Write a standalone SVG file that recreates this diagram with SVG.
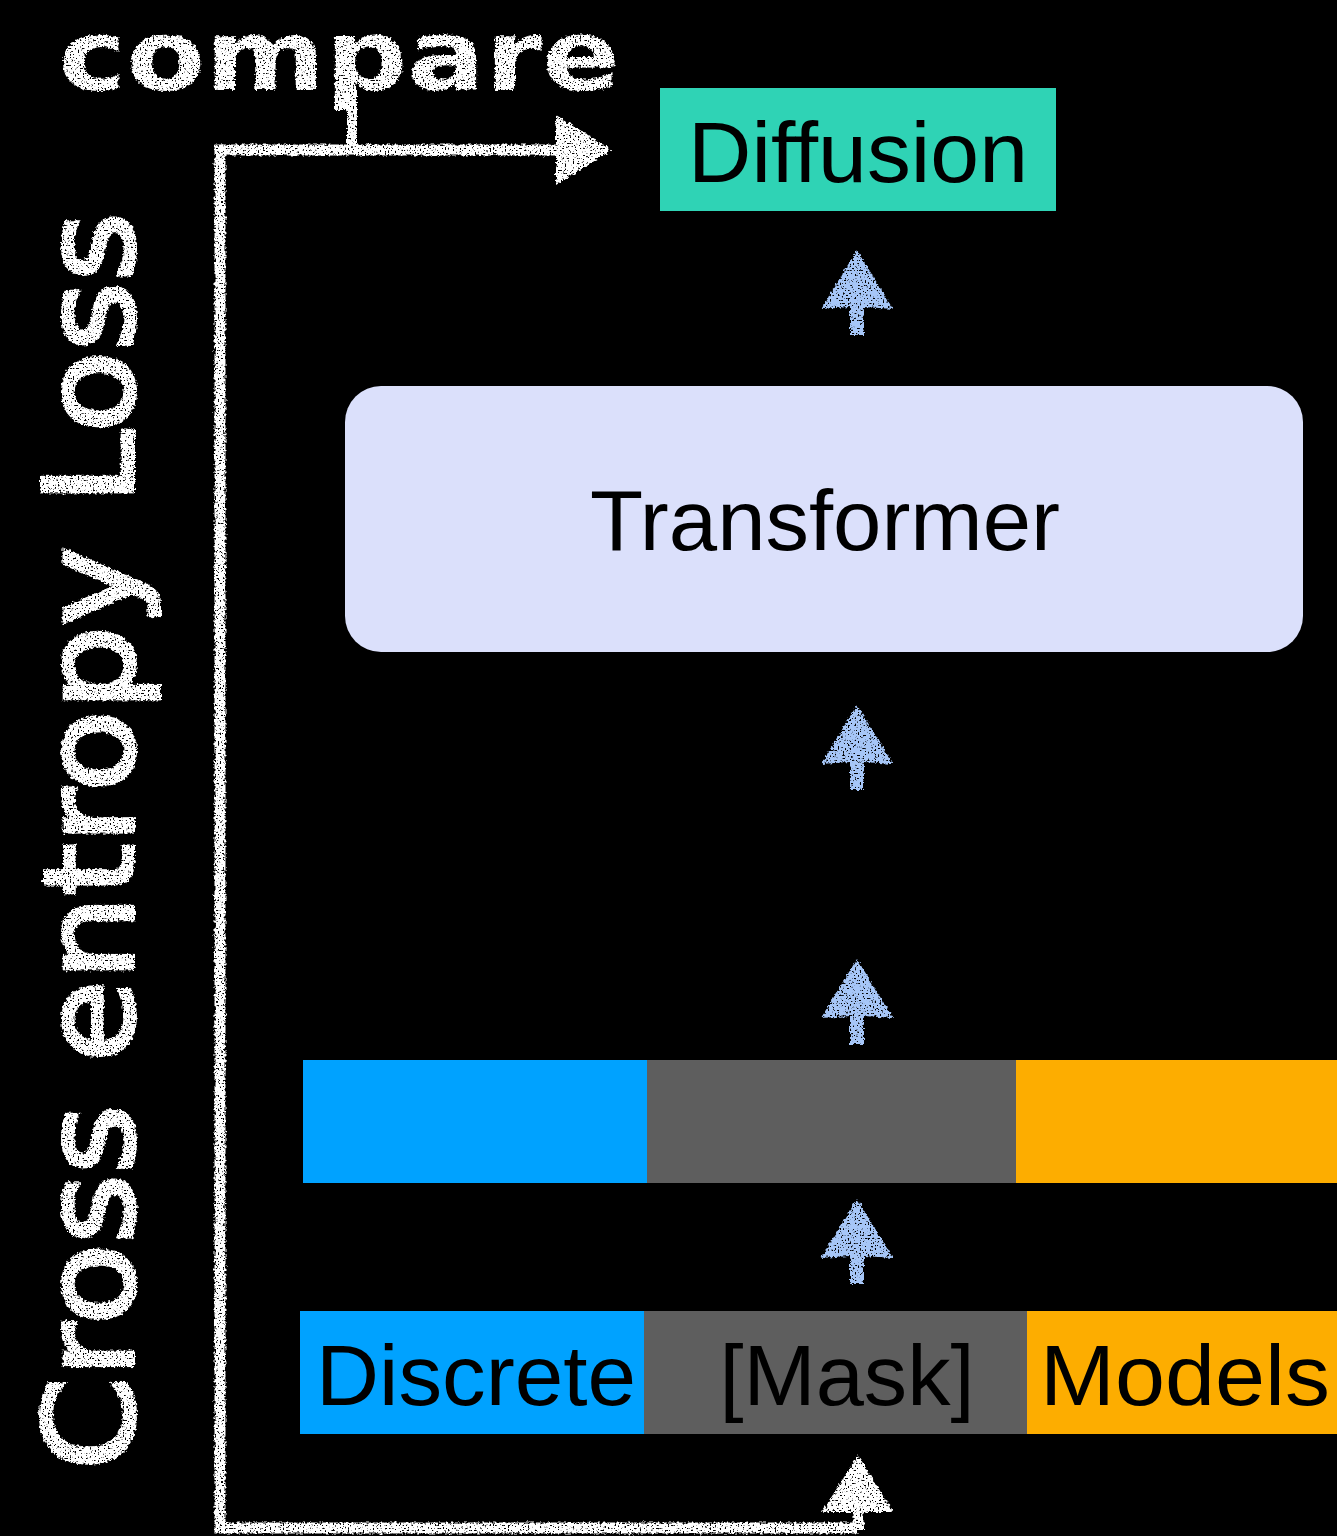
<svg xmlns="http://www.w3.org/2000/svg" width="1337" height="1536" viewBox="0 0 1337 1536">
<defs>
<filter id="chalk" x="-10%" y="-10%" width="120%" height="120%">
<feTurbulence type="fractalNoise" baseFrequency="0.35" numOctaves="2" seed="3" result="n"/>
<feDisplacementMap in="SourceGraphic" in2="n" scale="5" xChannelSelector="R" yChannelSelector="G" result="d"/>
<feTurbulence type="fractalNoise" baseFrequency="0.6" numOctaves="1" seed="7" result="n2"/>
<feColorMatrix in="n2" type="matrix" values="0 0 0 0 0  0 0 0 0 0  0 0 0 0 0  0 0 0 -12 8.2" result="holes"/>
<feComposite in="d" in2="holes" operator="in"/>
</filter>
<style>
.lbl{font-family:"Liberation Sans",Arial,sans-serif;fill:#000;font-size:86px}
.hand{font-family:"DejaVu Sans",sans-serif;font-weight:bold;fill:#fff}
.hand2{font-family:"DejaVu Sans",sans-serif;font-weight:normal;fill:#fff;stroke:#fff;stroke-width:4px}
.blue{fill:#a6c6f7}
</style>
<g id="arrow-blue">
<path d="M0,-43 L36,16 L7,14 L7,42 L-7,42 L-7,14 L-36,16 Z"/>
</g>
</defs>
<rect width="1337" height="1536" fill="#000"/>

<g id="diffusion">
<rect x="660" y="88" width="396" height="123" fill="#2fd3b5"/>
<text class="lbl" x="858" y="182" text-anchor="middle" textLength="340" lengthAdjust="spacingAndGlyphs">Diffusion</text>
</g>

<g id="transformer">
<rect x="345" y="386" width="958" height="266" rx="36" fill="#dbe0fb"/>
<text class="lbl" x="825" y="550" text-anchor="middle" font-size="84" textLength="470" lengthAdjust="spacingAndGlyphs">Transformer</text>
</g>

<g id="embeddings">
<rect x="303" y="1060" width="345" height="123" fill="#00a2ff"/>
<rect x="647" y="1060" width="370" height="123" fill="#5e5e5e"/>
<rect x="1016" y="1060" width="321" height="123" fill="#fdad00"/>
</g>

<g id="tokens">
<rect x="300" y="1311" width="345" height="123" fill="#00a2ff"/>
<rect x="644" y="1311" width="384" height="123" fill="#5e5e5e"/>
<rect x="1027" y="1311" width="310" height="123" fill="#fdad00"/>
<text class="lbl" x="316" y="1405" textLength="320" lengthAdjust="spacingAndGlyphs">Discrete</text>
<text class="lbl" x="847" y="1405" text-anchor="middle" textLength="255" lengthAdjust="spacingAndGlyphs">[Mask]</text>
<text class="lbl" x="1040" y="1405" textLength="290" lengthAdjust="spacingAndGlyphs">Models</text>
</g>

<g id="connectors">
<g class="blue" filter="url(#chalk)">
<use href="#arrow-blue" x="857" y="293"/>
<use href="#arrow-blue" x="857" y="748"/>
<use href="#arrow-blue" x="857" y="1002"/>
<use href="#arrow-blue" x="857" y="1242"/>
</g>
<g filter="url(#chalk)">
<path d="M858,1528 L220,1528 L220,150 L560,150" fill="none" stroke="#fff" stroke-width="11"/>
<path d="M352,88 L352,150" fill="none" stroke="#fff" stroke-width="10"/>
<path d="M556,115 L612,150 L556,185 Z" fill="#fff"/>
<path d="M858,1530 L858,1505" fill="none" stroke="#fff" stroke-width="11"/>
<path d="M858,1455 L893,1512 L822,1512 Z" fill="#fff"/>
</g>
</g>

<g id="labels" filter="url(#chalk)">
<text class="hand" x="58" y="90" font-size="98" textLength="562" lengthAdjust="spacingAndGlyphs">compare</text>
<text class="hand2" transform="translate(133,1470) rotate(-90)" font-size="124" textLength="1258" lengthAdjust="spacingAndGlyphs">Cross entropy Loss</text>
</g>
</svg>
